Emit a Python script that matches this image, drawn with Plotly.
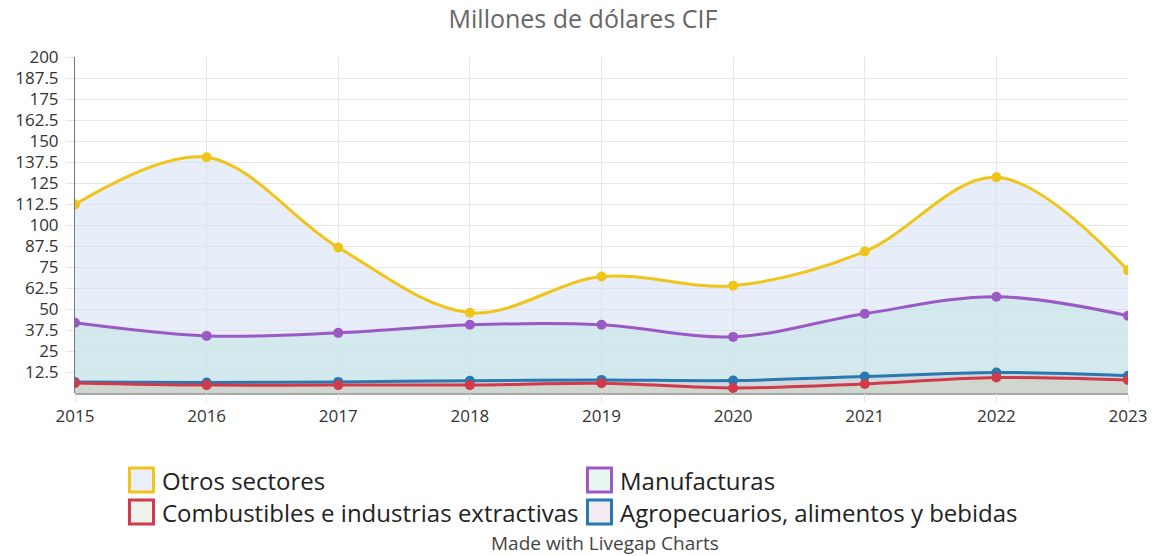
import plotly.graph_objects as go

years = [2015, 2016, 2017, 2018, 2019, 2020, 2021, 2022, 2023]
otros = [112.2, 140.3, 86.6, 47.8, 69.3, 63.9, 84.2, 128.4, 73.0]
manufacturas = [41.8, 34.0, 35.8, 40.6, 40.6, 33.4, 47.2, 57.3, 46.0]
combustibles = [6.0, 4.7, 4.7, 4.7, 5.8, 3.0, 5.4, 9.2, 7.8]
agro = [6.5, 6.3, 6.6, 7.3, 7.8, 7.4, 9.8, 12.2, 10.3]
y_ticks = [12.5 * i for i in range(1, 17)]

names = ["Otros sectores", "Manufacturas",
         "Combustibles e industrias extractivas", "Agropecuarios, alimentos y bebidas"]
values = [otros, manufacturas, combustibles, agro]
line_colors = ["#f0c419", "#9b59c6", "#d03a4a", "#2a78b0"]
fill_colors = ["rgba(214,224,244,0.55)", "rgba(196,230,228,0.6)",
               "rgba(205,215,195,0.55)", "rgba(205,195,205,0.45)"]
legend_fill = ["#e9eef8", "#e8f5f3", "#eef3ec", "#f2ecf2"]

W, H = 1157, 556
L, R, T, B = 75, 29, 57, 163
pw, ph = W - L - R, H - T - B

def px(x):
    return (x - L) / pw

def py(y):
    return (H - B - y) / ph

fig = go.Figure()
for i in [0, 1, 3, 2]:
    fig.add_trace(go.Scatter(
        x=years, y=values[i], name=names[i], mode="lines+markers",
        line=dict(color=line_colors[i], width=3, shape="spline", smoothing=1.0),
        marker=dict(color=line_colors[i], size=10),
        fill="tozeroy", fillcolor=fill_colors[i], showlegend=False,
    ))

# manual legend (2 columns)
shapes, annots = [], []
pos = [(128, 467), (586, 467), (128, 499), (586, 499)]
for i, (bx, by) in enumerate(pos):
    shapes.append(dict(type="rect", xref="paper", yref="paper",
                       x0=px(bx + 1.5), x1=px(bx + 25.5), y0=py(by + 25), y1=py(by + 1),
                       fillcolor=legend_fill[i], line=dict(color=line_colors[i], width=3)))
    annots.append(dict(text=names[i], xref="paper", yref="paper", x=px(bx + 32), y=py(by + 13),
                       xanchor="left", yanchor="middle", showarrow=False,
                       font=dict(size=24, color="#222")))
annots.append(dict(text="Made with Livegap Charts", xref="paper", yref="paper",
                   x=px(605), y=py(543), xanchor="center", yanchor="middle", showarrow=False,
                   font=dict(size=19, color="#444")))

fig.update_layout(
    width=W, height=H,
    paper_bgcolor="white", plot_bgcolor="white",
    font=dict(family="Open Sans", color="#333"),
    margin=dict(l=L, r=R, t=T, b=B, autoexpand=False),
    showlegend=False,
    title=dict(text="Millones de dólares CIF", x=px(583), xref="paper", xanchor="center",
               y=1 - 19 / H, yanchor="middle", font=dict(size=25, color="#666")),
    xaxis=dict(range=[2015, 2023], tickvals=years, showgrid=True, gridcolor="#e6e6e6",
               zeroline=False, showline=False, ticks="outside", ticklen=8, tickcolor="#e6e6e6",
               tickfont=dict(size=17, color="#333")),
    yaxis=dict(range=[0, 200], tickvals=y_ticks, showgrid=True, gridcolor="#e6e6e6",
               zeroline=True, zerolinecolor="#a8a8a8", zerolinewidth=3,
               showline=True, linecolor="#777", linewidth=1,
               ticks="outside", ticklen=8, tickcolor="#e6e6e6", ticklabelstandoff=4,
               tickfont=dict(size=17, color="#333")),
    shapes=shapes,
    annotations=annots,
)

fig.write_html("out.html", config={"displayModeBar": False},
               post_script="document.body.style.margin='0';document.body.style.overflow='hidden';")
